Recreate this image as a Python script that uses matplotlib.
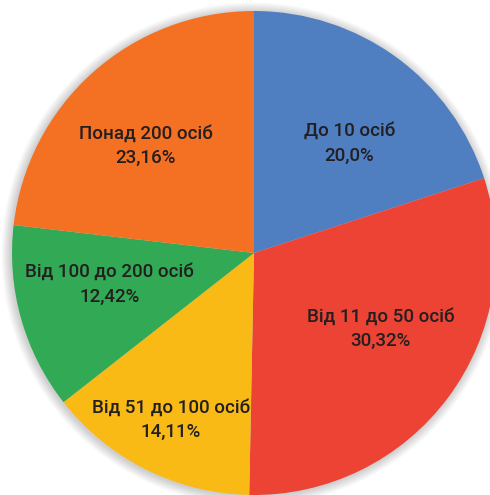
import numpy as np
import matplotlib.pyplot as plt
from matplotlib.patches import Circle

# data
labels = ["До 10 осіб", "Від 11 до 50 осіб", "Від 51 до 100 осіб",
          "Від 100 до 200 осіб", "Понад 200 осіб"]
shares = [20.0, 30.32, 14.11, 12.42, 23.16]
share_text = ["20,0%", "30,32%", "14,11%", "12,42%", "23,16%"]
colors = ["#4F7EC1", "#EC4335", "#F9BA16", "#31A955", "#F47022"]

# label placement tweaks: (radius fraction, angle shift in degrees)
label_r = [0.60, 0.61, 0.77, 0.61, 0.63]
label_shift = [-5, 5.6, 0, -3.5, 3.6]

fig = plt.figure(figsize=(4.9, 4.95), dpi=100)
ax = fig.add_axes([0, 0, 1, 1])

cx, cy, R = 254, 242, 242

# soft shadow around the pie
for k in range(8):
    ax.add_patch(Circle((cx - 1, cy - 1), R + 1 + k * 1.2, color="#000000",
                        alpha=0.025, lw=0, zorder=0))

wedges, _ = ax.pie(shares, colors=colors, startangle=90, counterclock=False,
                   center=(cx, cy), radius=R, frame=True,
                   wedgeprops=dict(linewidth=0))
ax.set_xlim(0, 490)
ax.set_ylim(0, 495)
ax.set_aspect("equal")
ax.axis("off")

for w, lab, pct, rf, sh in zip(wedges, labels, share_text, label_r, label_shift):
    mid = np.deg2rad((w.theta1 + w.theta2) / 2 + sh)
    x = cx + rf * R * np.cos(mid)
    y = cy + rf * R * np.sin(mid)
    ax.text(x, y, lab + "\n" + pct, ha="center", va="center",
            fontsize=13.5, fontweight="medium", color="#231F20",
            family="Roboto", linespacing=1.45, zorder=5)

fig.savefig("out.png", dpi=100)
